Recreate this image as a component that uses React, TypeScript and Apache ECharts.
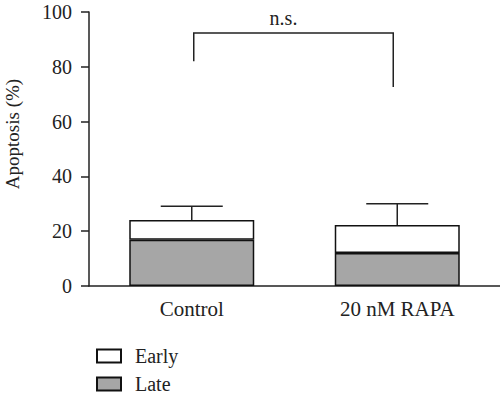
import React, { useEffect, useRef } from "react";
import * as echarts from "echarts";

const categories = ["Control", "20 nM RAPA"];
const lateValues = [16.9, 12.0];
const earlyValues = [7.2, 10.3];
const errorTop = [29.1, 30.0];
const yTicks = [0, 20, 40, 60, 80, 100];
// bracket: [leftIndex, rightIndex, top, leftLegBottom, rightLegBottom]
const bracket = [[0, 1, 92.3, 82, 72.6]];
const bracketLabel = "n.s.";

const FONT = "Liberation Serif";
const INK = "#222";

export default function App() {
  const ref = useRef<HTMLDivElement>(null);
  useEffect(() => {
    if (!ref.current) return;
    const chart = echarts.init(ref.current, undefined, { renderer: "svg" });
    const totals = lateValues.map((v, i) => +(v + earlyValues[i]).toFixed(2));
    chart.setOption({
      animation: false,
      grid: { left: 89, right: 0, top: 12, bottom: 112, containLabel: false },
      legend: {
        data: ["Early", "Late"],
        orient: "vertical",
        left: 96,
        top: 346,
        width: 150,
        height: 52,
        itemWidth: 24,
        itemHeight: 13,
        itemGap: 8,
        icon: "rect",
        textStyle: { fontFamily: FONT, fontSize: 20, lineHeight: 13, color: INK, padding: [0, 0, 0, 9] },
        padding: 0,
      },
      xAxis: {
        type: "category",
        data: categories,
        axisLine: { lineStyle: { color: INK, width: 1.5 } },
        axisTick: { alignWithLabel: true, length: 8, lineStyle: { color: INK, width: 1.5 } },
        axisLabel: { fontFamily: FONT, fontSize: 21, color: INK, margin: 12 },
      },
      yAxis: {
        type: "value",
        min: yTicks[0],
        max: yTicks[yTicks.length - 1],
        interval: 20,
        axisLine: { show: true, lineStyle: { color: INK, width: 1.5 } },
        axisTick: { show: true, length: 8, lineStyle: { color: INK, width: 1.5 } },
        axisLabel: { fontFamily: FONT, fontSize: 20, color: INK, margin: 17 },
        splitLine: { show: false },
      },
      graphic: [
        {
          type: "text",
          x: 12,
          y: 134,
          rotation: Math.PI / 2,
          style: {
            text: "Apoptosis (%)",
            fontFamily: FONT,
            fontSize: 19,
            fill: INK,
            textAlign: "center",
            textVerticalAlign: "middle",
          },
        },
      ],
      series: [
        {
          name: "Late",
          type: "bar",
          stack: "total",
          data: lateValues,
          barWidth: 125,
          itemStyle: { color: "#a6a6a6", borderColor: "#111", borderWidth: 1.5 },
        },
        {
          name: "Early",
          type: "bar",
          stack: "total",
          data: earlyValues,
          barWidth: 125,
          itemStyle: { color: "#ffffff", borderColor: "#111", borderWidth: 1.5 },
        },
        {
          name: "err",
          type: "custom",
          data: totals.map((t, i) => [i, t, errorTop[i]]),
          encode: { x: 0, y: [1, 2] },
          renderItem: (params: any, api: any) => {
            const p0 = api.coord([api.value(0), api.value(1)]);
            const p1 = api.coord([api.value(0), api.value(2)]);
            const style = { stroke: "#222", lineWidth: 1.5 };
            return {
              type: "group",
              children: [
                { type: "line", shape: { x1: p0[0], y1: p0[1], x2: p1[0], y2: p1[1] }, style },
                { type: "line", shape: { x1: p1[0] - 31, y1: p1[1], x2: p1[0] + 31, y2: p1[1] }, style },
              ],
            };
          },
          z: 1,
        },
        {
          name: "bracket",
          type: "custom",
          data: bracket,
          encode: { x: [0, 1], y: [2, 3, 4] },
          renderItem: (params: any, api: any) => {
            const top = api.coord([api.value(0), api.value(2)]);
            const lb = api.coord([api.value(0), api.value(3)]);
            const rt = api.coord([api.value(1), api.value(2)]);
            const rb = api.coord([api.value(1), api.value(4)]);
            const style = { stroke: "#222", lineWidth: 1.5 };
            return {
              type: "group",
              children: [
                {
                  type: "polyline",
                  shape: { points: [[lb[0] + 2, lb[1]], [top[0] + 2, top[1]], [rt[0] - 4, rt[1]], [rb[0] - 4, rb[1]]] },
                  style: { ...style, fill: "none" },
                },
                {
                  type: "text",
                  x: (top[0] + rt[0]) / 2 - 11,
                  y: top[1] - 5,
                  style: {
                    text: bracketLabel,
                    fontFamily: FONT,
                    fontSize: 20,
                    fill: INK,
                    textAlign: "center",
                    textVerticalAlign: "bottom",
                  },
                },
              ],
            };
          },
        },
      ],
    });
    return () => chart.dispose();
  }, []);
  return <div ref={ref} style={{ width: 500, height: 398, position: "absolute", left: 0, top: 0 }} />;
}
